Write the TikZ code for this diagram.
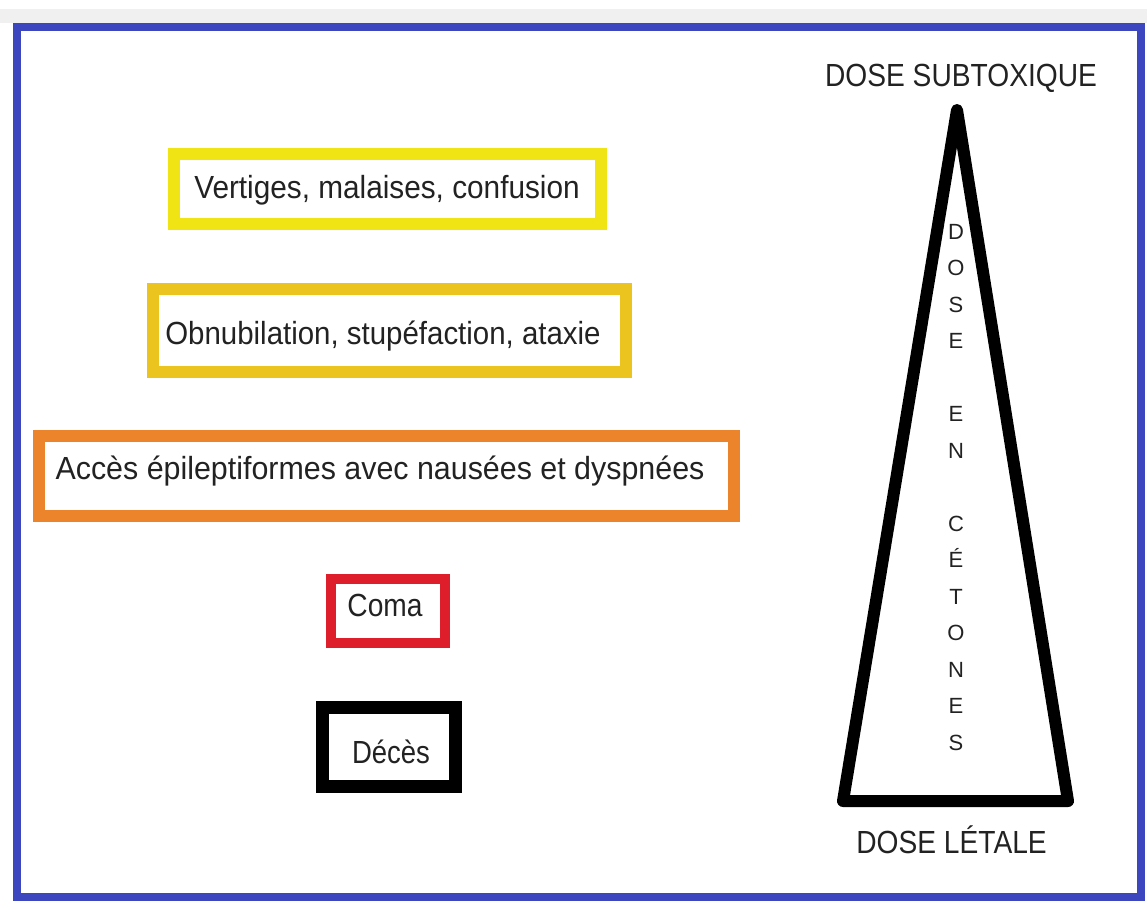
\documentclass[tikz,border=0pt]{standalone}
\usepackage{fontspec}
\setmainfont{Liberation Sans}
\definecolor{frameblue}{RGB}{60,70,190}
\definecolor{yel}{RGB}{240,228,20}
\definecolor{gold}{RGB}{236,196,32}
\definecolor{orng}{RGB}{236,132,44}
\definecolor{rd}{RGB}{222,30,42}
\definecolor{txtgray}{RGB}{34,34,34}
\definecolor{shadow}{RGB}{240,240,240}
\newcommand{\hs}[2]{\scalebox{#1}[1]{#2}}
\tikzset{
  box/.style={draw=#1, line width=12pt, rectangle, inner sep=0pt},
  txt/.style={text=txtgray, inner sep=0pt, font=\fontsize{32}{38}\selectfont},
  vtxt/.style={text=txtgray, inner sep=0pt, align=center, font=\fontsize{22}{36.5}\selectfont}
}
\begin{document}
\begin{tikzpicture}[x=1pt, y=-1pt]
\useasboundingbox (0,0) rectangle (1147,900);
\fill[shadow] (0,9) rectangle (1147,23);
\draw[frameblue, line width=8pt] (17,27) rectangle (1141,897);

% boxes
\node[box=yel, minimum width=427pt, minimum height=70pt] (b1) at (387.5,189) {};
\node[box=gold, minimum width=473pt, minimum height=83pt] (b2) at (389.5,330.5) {};
\node[box=orng, minimum width=695pt, minimum height=80pt] (b3) at (386.5,476) {};
\node[box=rd, line width=10pt, minimum width=114pt, minimum height=64pt] (b4) at (388,611) {};
\node[box=black, line width=13pt, minimum width=133pt, minimum height=79pt] (b5) at (388.5,746.5) {};

% texts
\node[txt] (t1) at (387,190) {\hs{0.93}{Vertiges, malaises, confusion}};
\node[txt] (t2) at (383,336) {\hs{0.92}{Obnubilation, stupéfaction, ataxie}};
\node[txt] (t3) at (380,471) {\hs{0.95}{Accès épileptiformes avec nausées et dyspnées}};
\node[txt] (t4) at (385,605) {\hs{0.88}{Coma}};
\node[txt] (t5) at (391,752) {\hs{0.86}{Décès}};

% triangle
\coordinate (apex) at (957,110);
\coordinate (bl) at (843,801);
\coordinate (br) at (1068,801);
\draw[line width=12pt, line join=round] (apex) -- (br) -- (bl) -- cycle;

\node[txt] (top) at (961,78) {\hs{0.88}{DOSE SUBTOXIQUE}};
\node[txt] (bot) at (951.5,840) {\hs{0.88}{DOSE LÉTALE}};

\node[vtxt] (ket) at (956,487.5) {D\\O\\S\\E\\\mbox{}\\E\\N\\\mbox{}\\C\\É\\T\\O\\N\\E\\S};
\end{tikzpicture}
\end{document}
